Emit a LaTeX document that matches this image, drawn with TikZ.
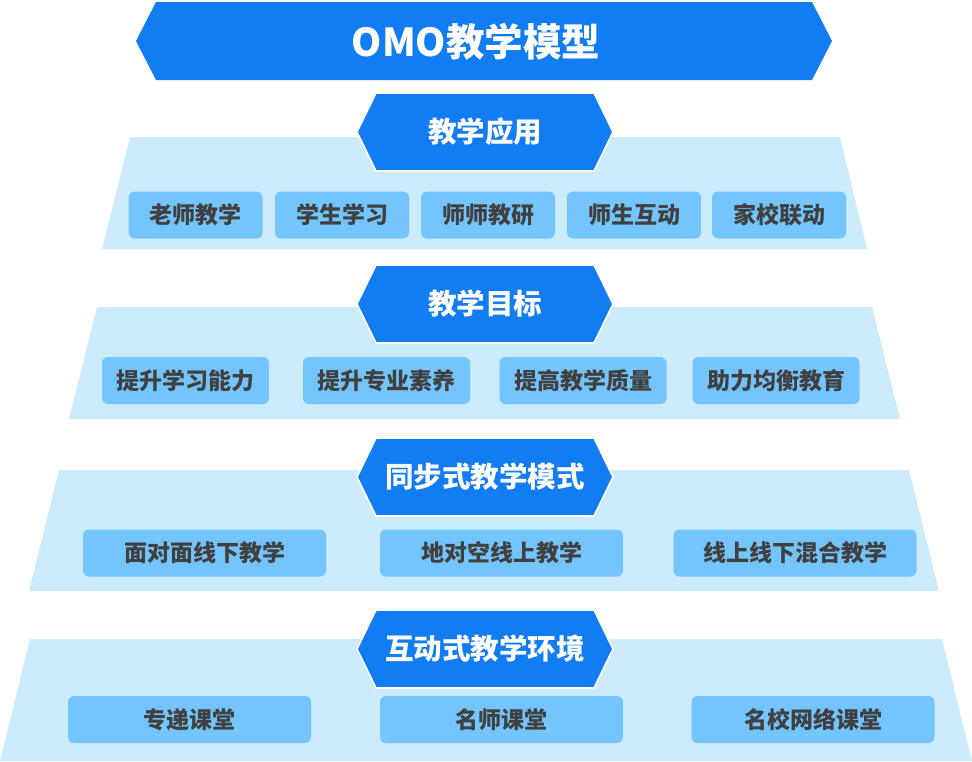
\documentclass[tikz,border=0pt]{standalone}
\usepackage{fontspec}
\setmainfont{Noto Sans CJK SC}
\usetikzlibrary{positioning}
\definecolor{hexblue}{HTML}{127CF3}
\definecolor{tierbg}{HTML}{CCEBFD}
\definecolor{boxbg}{HTML}{74C5FE}
\definecolor{boxtext}{HTML}{404040}
\tikzset{
  tierfill/.style={fill=tierbg, draw=none},
  hexfill/.style={fill=hexblue, draw=white, line width=1.6pt, line join=miter},
  hexlabel/.style={text=white, font=\fontsize{28.5}{30}\selectfont\bfseries, inner sep=0pt},
  itembox/.style={fill=boxbg, draw=none, rounded corners=6pt, minimum height=47pt,
    text=boxtext, font=\fontsize{23}{25}\selectfont\bfseries, inner sep=0pt, anchor=center},
}
\newcommand{\hexband}[2]{% #1 = top y, #2 = bottom y
  \path[hexfill] (357,{(#1+#2)/2}) -- (376,#1) -- (594,#1) -- (613,{(#1+#2)/2}) -- (594,#2) -- (376,#2) -- cycle;}
\begin{document}
\begin{tikzpicture}[x=1pt,y=-1pt]
\useasboundingbox (0,0) rectangle (972,761);
\fill[white] (0,0) rectangle (972,761);

% title banner
\fill[hexblue] (136,41) -- (156,2) -- (812,2) -- (832,41) -- (812,80) -- (156,80) -- cycle;
\node[text=white, font=\fontsize{38.5}{40}\selectfont\bfseries, inner sep=0pt] (title) at (476,42) {OMO教学模型};

% tier 1
\path[tierfill] (130,137) -- (840,137) -- (867,249) -- (102,249) -- cycle;
\hexband{93}{171}
\node[hexlabel] (h1) at (485,132) {教学应用};
\node[itembox, minimum width=134pt] (a1) at (195.5,215) {老师教学};
\node[itembox, minimum width=134pt] (a2) at (342,215) {学生学习};
\node[itembox, minimum width=134pt] (a3) at (488,215) {师师教研};
\node[itembox, minimum width=134pt] (a4) at (634,215) {师生互动};
\node[itembox, minimum width=134pt] (a5) at (779,215) {家校联动};

% tier 2
\path[tierfill] (97,307) -- (872,307) -- (900,419) -- (69,419) -- cycle;
\hexband{265}{343}
\node[hexlabel] (h2) at (485,304) {教学目标};
\node[itembox, minimum width=167pt] (b1) at (185.5,380.5) {提升学习能力};
\node[itembox, minimum width=167pt] (b2) at (386.5,380.5) {提升专业素养};
\node[itembox, minimum width=167pt] (b3) at (583,380.5) {提高教学质量};
\node[itembox, minimum width=167pt] (b4) at (776,380.5) {助力均衡教育};

% tier 3
\path[tierfill] (59,470) -- (909,470) -- (939,591) -- (29,591) -- cycle;
\hexband{438}{516}
\node[hexlabel] (h3) at (485,477) {同步式教学模式};
\node[itembox, minimum width=243pt] (c1) at (204.5,553) {面对面线下教学};
\node[itembox, minimum width=243pt] (c2) at (501.5,553) {地对空线上教学};
\node[itembox, minimum width=243pt] (c3) at (795,553) {线上线下混合教学};

% tier 4
\path[tierfill] (30,639) -- (942,639) -- (972,761) -- (0,761) -- cycle;
\hexband{610}{688}
\node[hexlabel] (h4) at (485,649) {互动式教学环境};
\node[itembox, minimum width=243pt] (d1) at (189.5,719.5) {专递课堂};
\node[itembox, minimum width=243pt] (d2) at (501.5,719.5) {名师课堂};
\node[itembox, minimum width=243pt] (d3) at (813,719.5) {名校网络课堂};
\end{tikzpicture}
\end{document}
